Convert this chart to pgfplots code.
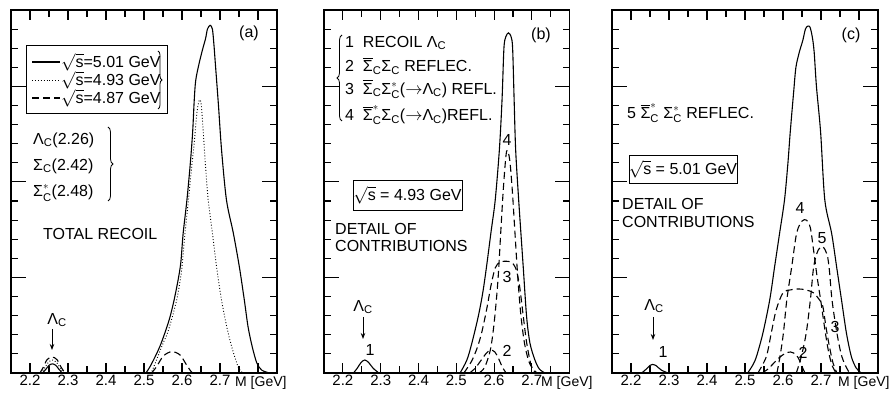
\documentclass[border=0pt]{standalone}
\usepackage{pgfplots}
\pgfplotsset{compat=1.18}
\usepackage{amsmath}
\usepackage{fontspec}
\setmainfont{Liberation Sans}
\usetikzlibrary{decorations.pathreplacing,arrows.meta}

\newcommand{\tf}{\fontsize{16}{19}\selectfont}
\newcommand{\Lc}{$\text{Λ}_{\text{C}}$}
\newcommand{\Sc}{$\text{Σ}_{\text{C}}$}
\newcommand{\Scs}{$\text{Σ}^{\ast}_{\text{C}}$}
\newcommand{\Sbc}{$\overline{\text{Σ}}_{\text{C}}$}
\newcommand{\Sbcs}{$\overline{\text{Σ}}^{\ast}_{\text{C}}$}
\newcommand{\rs}{$\sqrt{\text{s}}$}

\tikzset{
 dsh/.style={dash pattern=on 7pt off 4pt},
 dtt/.style={line width=0.9pt, dash pattern=on 0.9pt off 2pt},
 tk/.style={line width=1.1pt, black},
}
\pgfplotsset{
 panel/.style={scale only axis, height=363pt, ymin=0, ymax=19, xmin=2.15,
   axis line style={line width=1.1pt},
   cycle list={{black}},
   xtick pos=both, ytick pos=both, tick align=inside,
   ytick={5,10,15}, yticklabels={},
   minor ytick={1,2,3,4,6,7,8,9,11,12,13,14,16,17,18},
   xtick={2.2,2.3,2.4,2.5,2.6,2.7}, xticklabels={2.2,2.3,2.4,2.5,2.6,2.7},
   major tick length=15pt, minor tick length=7pt,
   every tick/.style={line width=1.1pt, draw=black},
   every minor tick/.style={line width=1.1pt, draw=black},
   every major x tick/.style={draw=none},
   tick label style={font=\fontsize{15}{18}\selectfont},
   xticklabel style={inner sep=0pt, yshift=-2pt},
   anchor=south west, clip=false,
   every axis plot/.append style={line width=1.1pt, smooth, no markers},
 },
}
\newcommand{\xticksmaj}[1]{\pgfplotsinvokeforeach{#1}{\draw[tk] (axis cs:##1,19) -- ++(0pt,-10pt);}}
\newcommand{\xticksmin}[1]{\pgfplotsinvokeforeach{#1}{\draw[tk] (axis cs:##1,19) -- ++(0pt,-7pt);}}

\begin{document}
\begin{tikzpicture}[x=1pt,y=1pt]
% ---------------- panel (a)
\begin{axis}[panel, at={(11pt,23pt)}, width=266pt, xmax=2.85]
\addplot coordinates {(2.233,0)(2.242,0.2)(2.25,0.4)(2.259,0.48)(2.268,0.4)(2.276,0.2)(2.285,0)};
\addplot[dtt] coordinates {(2.229,0)(2.238,0.25)(2.248,0.55)(2.259,0.68)(2.27,0.55)(2.28,0.25)(2.289,0)};
\addplot[dsh] coordinates {(2.226,0)(2.235,0.3)(2.245,0.7)(2.258,0.84)(2.271,0.7)(2.282,0.3)(2.292,0)};
\addplot coordinates {(2.505,0)(2.515,0.3)(2.529,0.84)(2.542,1.4)(2.555,2.1)(2.568,2.9)(2.579,3.8)(2.59,4.9)(2.597,5.8)(2.603,7.3)(2.613,9.06)(2.622,11.0)(2.628,12.6)(2.632,14.2)(2.636,15.3)(2.645,16.2)(2.655,17.0)(2.662,17.5)(2.667,18.0)(2.674,18.2)(2.680,18.0)(2.684,17.2)(2.687,16.4)(2.696,14.0)(2.704,11.7)(2.717,9.06)(2.735,7.33)(2.751,5.55)(2.764,3.82)(2.774,2.4)(2.785,1.36)(2.797,0.52)(2.81,0.15)(2.83,0)};
\addplot[dtt] coordinates {(2.515,0)(2.521,0.1)(2.536,0.84)(2.549,1.5)(2.562,2.1)(2.574,2.9)(2.586,3.82)(2.594,4.7)(2.600,5.55)(2.608,7.33)(2.617,9.06)(2.625,10.7)(2.632,12.0)(2.638,13.4)(2.643,14.1)(2.647,14.3)(2.651,14.0)(2.656,12.6)(2.662,10.8)(2.669,9.06)(2.680,7.33)(2.691,5.55)(2.704,3.82)(2.718,2.4)(2.731,1.36)(2.748,0.31)(2.76,0)};
\addplot[dsh] coordinates {(2.52,0)(2.533,0.33)(2.551,0.89)(2.573,1.12)(2.595,0.94)(2.612,0.42)(2.625,0.05)(2.63,0)};
\xticksmaj{2.2,2.3,2.4,2.5,2.6,2.7,2.8}
\xticksmin{2.25,2.35,2.45,2.55,2.65,2.75}
\end{axis}
% ---------------- panel (b)
\begin{axis}[panel, at={(324pt,23pt)}, width=245.7pt, xmax=2.80]
\addplot coordinates {(2.228,0)(2.238,0.25)(2.248,0.55)(2.258,0.68)(2.268,0.55)(2.28,0.25)(2.295,0)};
\addplot coordinates {(2.51,0)(2.528,0.68)(2.541,1.55)(2.558,2.95)(2.570,4.2)(2.580,5.57)(2.592,7.4)(2.603,9.06)(2.614,11.7)(2.621,14.3)(2.626,17.0)(2.631,17.6)(2.638,17.8)(2.645,17.6)(2.649,17.0)(2.653,14.3)(2.657,11.7)(2.665,9.06)(2.677,5.57)(2.686,2.95)(2.695,1.55)(2.708,0.68)(2.72,0.2)(2.735,0)};
\addplot[dsh] coordinates {(2.56,0)(2.575,0.3)(2.59,1.2)(2.600,2.6)(2.610,4.8)(2.618,7.5)(2.625,9.8)(2.633,11.6)(2.641,11.2)(2.648,9.6)(2.655,7.4)(2.662,5.2)(2.670,3.2)(2.680,1.6)(2.692,0.6)(2.705,0.15)(2.715,0)};
\addplot[dsh] coordinates {(2.52,0)(2.54,0.6)(2.555,1.3)(2.567,2.1)(2.58,3.3)(2.592,4.6)(2.603,5.5)(2.615,5.8)(2.63,5.85)(2.645,5.8)(2.657,5.5)(2.667,4.6)(2.677,3.0)(2.686,1.6)(2.698,0.4)(2.71,0)};
\addplot[dsh] coordinates {(2.535,0)(2.55,0.25)(2.565,0.65)(2.578,1.0)(2.59,1.2)(2.602,1.1)(2.612,0.75)(2.622,0.3)(2.632,0)};
\xticksmaj{2.2,2.3,2.4,2.5,2.6,2.7}
\xticksmin{2.25,2.35,2.45,2.55,2.65,2.75}
\end{axis}
% ---------------- panel (c)
\begin{axis}[panel, at={(612pt,23pt)}, width=266pt, xmax=2.85]
\addplot coordinates {(2.228,0)(2.24,0.2)(2.25,0.4)(2.257,0.45)(2.265,0.4)(2.28,0.15)(2.298,0)};
\addplot coordinates {(2.507,0)(2.52,0.4)(2.530,0.85)(2.547,2.08)(2.565,3.82)(2.578,5.57)(2.591,7.31)(2.604,9.06)(2.613,11.0)(2.619,12.6)(2.628,14.7)(2.634,16.0)(2.643,16.8)(2.652,17.4)(2.659,18.0)(2.665,18.15)(2.671,18.1)(2.677,17.6)(2.682,16.8)(2.688,15.0)(2.699,12.6)(2.710,9.06)(2.728,7.31)(2.741,5.57)(2.754,3.82)(2.767,2.08)(2.780,0.85)(2.793,0.25)(2.806,0)};
\addplot[dsh] coordinates {(2.584,0)(2.592,0.85)(2.601,2.08)(2.610,3.82)(2.623,5.57)(2.636,7.33)(2.650,7.95)(2.662,8.0)(2.672,7.6)(2.680,6.5)(2.690,5.0)(2.700,3.7)(2.710,2.3)(2.720,1.1)(2.730,0.35)(2.74,0)};
\addplot[dsh] coordinates {(2.635,0)(2.648,0.85)(2.661,2.08)(2.672,3.82)(2.681,5.6)(2.693,6.45)(2.705,6.6)(2.716,6.2)(2.722,5.4)(2.729,3.82)(2.742,2.08)(2.755,0.85)(2.772,0.1)(2.78,0)};
\addplot[dsh] coordinates {(2.534,0)(2.556,0.85)(2.569,2.08)(2.582,3.3)(2.600,4.2)(2.62,4.35)(2.64,4.4)(2.66,4.35)(2.68,4.2)(2.697,3.8)(2.705,3.47)(2.713,2.42)(2.722,1.4)(2.732,0.5)(2.742,0)};
\addplot[dsh] coordinates {(2.545,0)(2.56,0.2)(2.575,0.5)(2.59,0.8)(2.605,1.02)(2.62,1.1)(2.635,0.95)(2.645,0.6)(2.652,0.25)(2.658,0)};
\xticksmaj{2.2,2.3,2.4,2.5,2.6,2.7,2.8}
\xticksmin{2.25,2.35,2.45,2.55,2.65,2.75}
\end{axis}

% ---------------- bottom tick marks of the three frames
\foreach \t in {2.2,2.3,2.4,2.5,2.6,2.7,2.8} {\draw[tk] ({11+(\t-2.15)*380},23) -- ++(0,10);}
\foreach \t in {2.25,2.35,2.45,2.55,2.65,2.75} {\draw[tk] ({11+(\t-2.15)*380},23) -- ++(0,7);}
\foreach \t in {2.2,2.3,2.4,2.5,2.6,2.7} {\draw[tk] ({324+(\t-2.15)*378},23) -- ++(0,10);}
\foreach \t in {2.25,2.35,2.45,2.55,2.65,2.75} {\draw[tk] ({324+(\t-2.15)*378},23) -- ++(0,7);}
\foreach \t in {2.2,2.3,2.4,2.5,2.6,2.7,2.8} {\draw[tk] ({612+(\t-2.15)*380},23) -- ++(0,10);}
\foreach \t in {2.25,2.35,2.45,2.55,2.65,2.75} {\draw[tk] ({612+(\t-2.15)*380},23) -- ++(0,7);}

% ---------------- annotations (a)
\draw[line width=0.9pt] (26,351) rectangle (167,283);
\draw[line width=1.1pt] (32,334)--(60,334);
\draw[dtt] (32,316)--(60,316);
\draw[line width=1.1pt,dsh] (32,298)--(60,298);
\node[anchor=west,inner sep=0pt,font=\tf] at (61,334) {\rs=5.01 GeV};
\node[anchor=west,inner sep=0pt,font=\tf] at (61,316) {\rs=4.93 GeV};
\node[anchor=west,inner sep=0pt,font=\tf] at (61,298) {\rs=4.87 GeV};
\draw[line width=0.8pt,decorate,decoration={brace,amplitude=4pt}] (158,345)--(158,287);
\node[anchor=west,inner sep=0pt,font=\tf] at (33,256) {\Lc(2.26)};
\node[anchor=west,inner sep=0pt,font=\tf] at (33,230) {\Sc(2.42)};
\node[anchor=west,inner sep=0pt,font=\tf] at (33,203) {\Scs(2.48)};
\draw[line width=0.8pt,decorate,decoration={brace,amplitude=5pt}] (108,269)--(108,195);
\node[anchor=west,inner sep=0pt,font=\tf] at (43,162) {TOTAL RECOIL};
\node[font=\tf] at (249,363) {(a)};
\node[font=\tf] at (57,76) {\Lc};
\draw[line width=0.9pt,-{Stealth[length=6pt]}] (52,67)--(52,46);
\node[anchor=base west,inner sep=0pt,font=\fontsize{14}{17}\selectfont] at (235,9) {M [GeV]};

% ---------------- annotations (b)
\draw[line width=0.8pt,decorate,decoration={brace,amplitude=5pt}] (342,275)--(342,361);
\node[anchor=west,inner sep=0pt,font=\tf] at (345,353) {1\ \ RECOIL \Lc};
\node[anchor=west,inner sep=0pt,font=\tf] at (345,330) {2\ \ \Sbc\Sc\ REFLEC.};
\node[anchor=west,inner sep=0pt,font=\tf] at (345,307) {3\ \ \Sbc\Scs($\rightarrow$\Lc) REFL.};
\node[anchor=west,inner sep=0pt,font=\tf] at (345,281) {4\ \ \Sbcs\Sc($\rightarrow$\Lc)REFL.};
\draw[line width=0.9pt] (353,216) rectangle (462,186);
\node[font=\tf] at (407.5,201) {\rs\ = 4.93 GeV};
\node[anchor=west,inner sep=0pt,font=\tf] at (335,167) {DETAIL OF};
\node[anchor=west,inner sep=0pt,font=\tf] at (335,150) {CONTRIBUTIONS};
\node[font=\tf] at (541,361) {(b)};
\node[font=\tf] at (363,89) {\Lc};
\draw[line width=0.9pt,-{Stealth[length=6pt]}] (363,79)--(363,57);
\node[font=\tf] at (370,46) {1};
\node[font=\tf] at (507,45) {2};
\node[font=\tf] at (507,119) {3};
\node[font=\tf] at (507,256) {4};
\node[anchor=base west,inner sep=0pt,font=\fontsize{14}{17}\selectfont] at (541,9) {M [GeV]};

% ---------------- annotations (c)
\node[anchor=west,inner sep=0pt,font=\tf] at (627,283) {5 \Sbcs\ \Scs\ REFLEC.};
\draw[line width=0.9pt] (629,241) rectangle (737,213);
\node[font=\tf] at (683,227) {\rs\ = 5.01 GeV};
\node[anchor=west,inner sep=0pt,font=\tf] at (622,192) {DETAIL OF};
\node[anchor=west,inner sep=0pt,font=\tf] at (622,174) {CONTRIBUTIONS};
\node[font=\tf] at (851,361) {(c)};
\node[font=\tf] at (654,90) {\Lc};
\draw[line width=0.9pt,-{Stealth[length=6pt]}] (653,79)--(653,56);
\node[font=\tf] at (663,44) {1};
\node[font=\tf] at (803,43) {2};
\node[font=\tf] at (835,69) {3};
\node[font=\tf] at (800,188) {4};
\node[font=\tf] at (822,158) {5};
\node[anchor=base west,inner sep=0pt,font=\fontsize{14}{17}\selectfont] at (838,9) {M [GeV]};

\pgfresetboundingbox
\useasboundingbox (0,0) rectangle (889,396);
\end{tikzpicture}
\end{document}
